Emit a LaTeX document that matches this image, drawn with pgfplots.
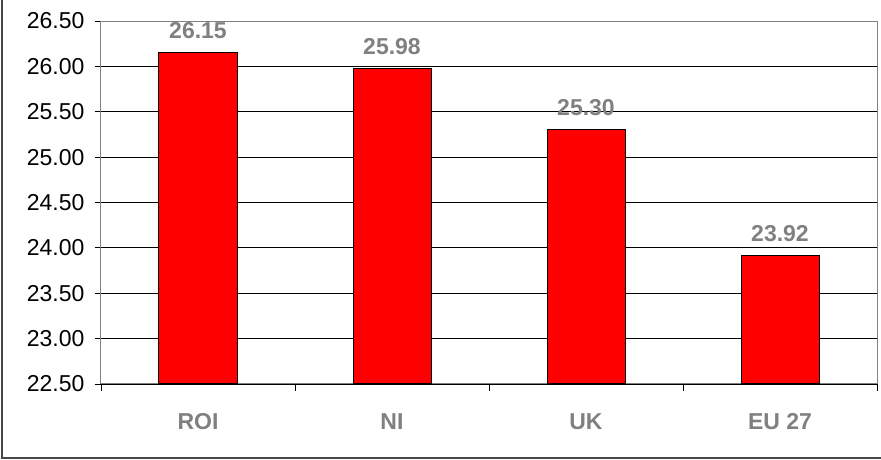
\documentclass[border=0pt]{standalone}
\usepackage{fontspec}
\setmainfont{Liberation Sans}
\usepackage{pgfplots}
\pgfplotsset{compat=1.18}
\definecolor{lblgray}{RGB}{128,128,128}
\definecolor{framegray}{RGB}{70,70,70}

\begin{document}
\begin{tikzpicture}
\useasboundingbox (-101pt,-76pt) rectangle (780pt,384pt);
\begin{axis}[
    at={(0,0)}, anchor=south west,
    scale only axis,
    width=776pt, height=363pt,
    ybar, bar width=78pt,
    xmin=-0.5, xmax=3.5,
    ymin=22.5, ymax=26.5,
    ytick={22.5,23,...,26.5},
    xtick={0,1,2,3},
    xticklabels={ROI,NI,UK,EU 27},
    minor xtick={-0.5,0.5,1.5,2.5,3.5},
    xtick pos=bottom, ytick pos=left,
    major x tick style={draw=none},
    minor x tick style={black, line width=0.8pt},
    ytick style={black, line width=0.8pt},
    tick align=outside,
    major tick length=6pt, minor tick length=7pt,
    ymajorgrids,
    major grid style={black, line width=0.8pt},
    axis line style={lblgray, line width=1pt},
    /pgf/number format/assume math mode=true,
    y tick label style={/pgf/number format/fixed, /pgf/number format/fixed zerofill,
        /pgf/number format/precision=2},
    yticklabel style={font=\fontsize{23}{27}\selectfont, xshift=-7pt},
    xticklabel style={font=\fontsize{23}{27}\selectfont\bfseries, text=lblgray, yshift=-20pt},
    nodes near coords,
    nodes near coords style={/pgf/number format/fixed, /pgf/number format/fixed zerofill,
        /pgf/number format/precision=2},
    every node near coord/.append style={font=\fontsize{23}{27}\selectfont\bfseries, text=lblgray, yshift=10pt},
    clip=false,
]
\addplot[fill=red, draw=black, line width=1pt] coordinates {
    (0,26.15) (1,25.98) (2,25.30) (3,23.92)
};
\end{axis}
\draw[framegray, line width=1.2pt] (-99pt,384pt) -- (-99pt,-74pt) -- (780pt,-74pt);
\end{tikzpicture}
\end{document}
